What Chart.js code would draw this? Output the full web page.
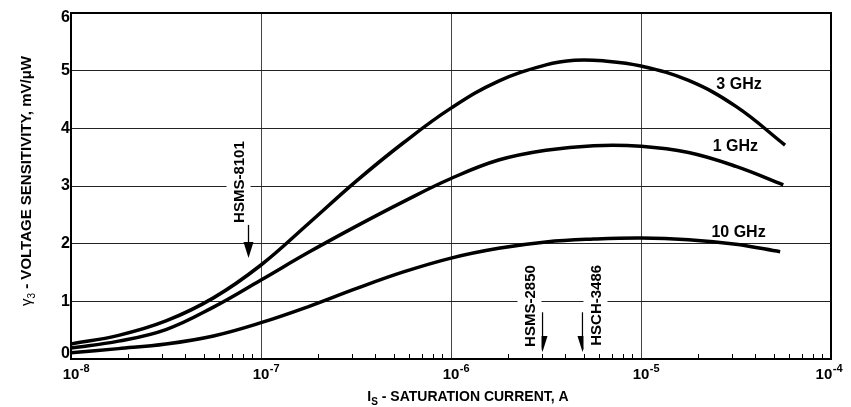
<!DOCTYPE html>
<html>
<head>
<meta charset="utf-8">
<script src="https://cdn.jsdelivr.net/npm/chart.js@4.4.1/dist/chart.umd.min.js"></script>
<style>
  html, body { margin: 0; padding: 0; background: #fff; }
  #wrap { width: 851px; height: 407px; position: relative; }
</style>
</head>
<body>
<div id="wrap"><canvas id="graph"></canvas></div>
<script>
// values: saturation current (A) and sensitivity (mV/uW)
var current3GHz = [1e-8, 1.78e-8, 3.16e-8, 5.62e-8, 1e-7, 1.78e-7, 3.16e-7, 5.62e-7, 1e-6, 1.78e-6, 3.16e-6, 4.47e-6, 6.31e-6, 1e-5, 1.78e-5, 3.16e-5, 5.73e-5];
var sens3GHz    = [0.26, 0.41, 0.66, 1.06, 1.63, 2.35, 3.08, 3.75, 4.35, 4.82, 5.10, 5.18, 5.17, 5.08, 4.83, 4.38, 3.71];

var current1GHz = [1e-8, 1.78e-8, 3.16e-8, 5.62e-8, 1e-7, 1.78e-7, 3.16e-7, 5.62e-7, 1e-6, 1.78e-6, 3.16e-6, 5.62e-6, 1e-5, 1.78e-5, 3.16e-5, 5.61e-5];
var sens1GHz    = [0.19, 0.31, 0.51, 0.90, 1.37, 1.85, 2.30, 2.73, 3.13, 3.45, 3.62, 3.70, 3.69, 3.58, 3.34, 3.02];

var current10GHz = [1e-8, 1.78e-8, 3.16e-8, 5.62e-8, 1e-7, 1.78e-7, 3.16e-7, 5.62e-7, 1e-6, 1.78e-6, 3.16e-6, 5.62e-6, 1e-5, 1.78e-5, 3.16e-5, 5.4e-5];
var sens10GHz    = [0.11, 0.18, 0.26, 0.40, 0.63, 0.91, 1.22, 1.51, 1.75, 1.92, 2.03, 2.08, 2.10, 2.07, 1.99, 1.86];

var seriesNames = ['3 GHz', '1 GHz', '10 GHz'];
var labelCurrent = [3.28e-5, 3.14e-5, 3.26e-5];
var labelSens = [4.75, 3.69, 2.19];

// diode markers along the current axis
var markerNames = ['HSMS-8101', 'HSMS-2850', 'HSCH-3486'];
var markerCurrent = [8.5e-8, 3.0e-6, 4.9e-6];

var xExponents = [-8, -7, -6, -5, -4];
var yTicks = [0, 1, 2, 3, 4, 5, 6];

function points(xs, ys) {
  return xs.map(function (x, i) { return { x: x, y: ys[i] }; });
}

function isDecade(v) {
  var l = Math.log10(v);
  return Math.abs(l - Math.round(l)) < 1e-6;
}

var FONT = '"Liberation Sans", Arial, Helvetica, sans-serif';

// arrow/text placement for markers (pixel offsets, value positions)
var markerLayout = [
  { tip: 1.75, tail: 2.41, textStart: 2.36, dx: -10 },
  { tip: 0.12, tail: 0.81, textStart: 0.21, dx: -13 },
  { tip: 0.12, tail: 0.81, textStart: 0.23, dx: 13 }
];

var decorations = {
  id: 'decorations',
  afterDatasetsDraw: function (chart) {
    var ctx = chart.ctx;
    var xs = chart.scales.x, ys = chart.scales.y;
    var area = chart.chartArea;
    ctx.save();

    // marker arrows and rotated part numbers
    ctx.font = 'bold 15px ' + FONT;
    markerNames.forEach(function (name, i) {
      var m = markerLayout[i];
      var px = Math.round(xs.getPixelForValue(markerCurrent[i])) + 0.5;
      var tip = ys.getPixelForValue(m.tip);
      var tail = ys.getPixelForValue(m.tail);
      ctx.strokeStyle = '#000';
      ctx.lineWidth = 1.3;
      ctx.beginPath();
      ctx.moveTo(px, tail);
      ctx.lineTo(px, tip - 12);
      ctx.stroke();
      ctx.fillStyle = '#000';
      ctx.beginPath();
      ctx.moveTo(px - 5, tip - 16);
      ctx.lineTo(px + 5, tip - 16);
      ctx.lineTo(px, tip);
      ctx.closePath();
      ctx.fill();

      var w = ctx.measureText(name).width;
      var cx = px + m.dx;
      var bottom = ys.getPixelForValue(m.textStart);
      ctx.fillStyle = '#fff';
      ctx.fillRect(cx - 12, bottom - w - 2, 24, w + 4);
      ctx.save();
      ctx.translate(cx + 5.5, bottom);
      ctx.rotate(-Math.PI / 2);
      ctx.fillStyle = '#000';
      ctx.textAlign = 'left';
      ctx.textBaseline = 'alphabetic';
      ctx.fillText(name, 0, 0);
      ctx.restore();
    });

    // curve labels
    ctx.fillStyle = '#000';
    ctx.font = 'bold 16px ' + FONT;
    ctx.textAlign = 'center';
    ctx.textBaseline = 'middle';
    seriesNames.forEach(function (name, i) {
      ctx.fillText(name, xs.getPixelForValue(labelCurrent[i]), ys.getPixelForValue(labelSens[i]));
    });

    // plot frame
    ctx.strokeStyle = '#000';
    ctx.lineWidth = 2;
    ctx.strokeRect(area.left, area.top, area.right - area.left, area.bottom - area.top);

    // minor ticks along the bottom
    ctx.lineWidth = 1;
    for (var e = -8; e < -4; e++) {
      for (var k = 2; k <= 9; k++) {
        var tx = Math.round(xs.getPixelForValue(k * Math.pow(10, e))) + 0.5;
        ctx.beginPath();
        ctx.moveTo(tx, area.bottom);
        ctx.lineTo(tx, area.bottom - 5);
        ctx.stroke();
      }
    }

    // y tick labels
    ctx.font = 'bold 16px ' + FONT;
    ctx.textAlign = 'right';
    ctx.textBaseline = 'middle';
    yTicks.forEach(function (v) {
      var py = ys.getPixelForValue(v);
      py = Math.max(area.top + 5, Math.min(area.bottom - 5, py));
      ctx.fillText(String(v), area.left - 1, py);
    });

    // x tick labels 10^n
    ctx.textAlign = 'left';
    ctx.textBaseline = 'alphabetic';
    xExponents.forEach(function (n) {
      var px = xs.getPixelForValue(Math.pow(10, n));
      ctx.font = 'bold 15px ' + FONT;
      var w10 = ctx.measureText('10').width;
      ctx.font = 'bold 11px ' + FONT;
      var wExp = ctx.measureText('-' + Math.abs(n)).width;
      var start = px - w10 / 2;
      if (start + w10 + wExp > 842) start = 842 - w10 - wExp;
      ctx.font = 'bold 15px ' + FONT;
      ctx.fillText('10', start, 379);
      ctx.font = 'bold 11px ' + FONT;
      ctx.fillText('-' + Math.abs(n), start + w10 + 0.5, 372);
    });

    // x axis title with subscript
    var parts = [['I', 'bold 14px ', 0], ['S', 'bold 10px ', 4], [' - SATURATION CURRENT, A', 'bold 14px ', 0]];
    var total = 0;
    parts.forEach(function (p) { ctx.font = p[1] + FONT; total += ctx.measureText(p[0]).width; });
    var sx = (area.left + area.right) / 2 + 17 - total / 2;
    parts.forEach(function (p) {
      ctx.font = p[1] + FONT;
      ctx.fillText(p[0], sx, 401 + p[2]);
      sx += ctx.measureText(p[0]).width;
    });

    // y axis title, rotated
    var yparts = [['\u03b3', '15px ', 0], ['3', '10px ', 4], [' - VOLTAGE SENSITIVITY, mV/\u03bcW', 'bold 15px ', 0]];
    var ytotal = 0;
    yparts.forEach(function (p) { ctx.font = p[1] + FONT; ytotal += ctx.measureText(p[0]).width; });
    ctx.save();
    ctx.translate(31, 181);
    ctx.rotate(-Math.PI / 2);
    var yx = -ytotal / 2;
    yparts.forEach(function (p) {
      ctx.font = p[1] + FONT;
      ctx.fillText(p[0], yx, p[2]);
      yx += ctx.measureText(p[0]).width;
    });
    ctx.restore();

    ctx.restore();
  }
};

var lineStyle = {
  borderColor: '#000',
  borderWidth: 3.5,
  pointRadius: 0,
  fill: false,
  tension: 0.4
};

var graph = new Chart(document.getElementById('graph'), {
  type: 'line',
  data: {
    datasets: [
      Object.assign({ label: seriesNames[0], data: points(current3GHz, sens3GHz) }, lineStyle),
      Object.assign({ label: seriesNames[1], data: points(current1GHz, sens1GHz) }, lineStyle),
      Object.assign({ label: seriesNames[2], data: points(current10GHz, sens10GHz) }, lineStyle)
    ]
  },
  options: {
    responsive: true,
    maintainAspectRatio: false,
    animation: false,
    layout: { padding: { left: 71, right: 20, top: 13, bottom: 48 } },
    plugins: { legend: { display: false }, tooltip: { enabled: false } },
    scales: {
      x: {
        type: 'logarithmic',
        min: 1e-8,
        max: 1e-4,
        border: { display: false },
        ticks: { display: false },
        grid: {
          drawTicks: false,
          lineWidth: 1,
          color: function (c) {
            return (c.tick && isDecade(c.tick.value)) ? '#444' : 'rgba(0,0,0,0)';
          }
        }
      },
      y: {
        min: 0,
        max: 6,
        border: { display: false },
        ticks: { display: false, stepSize: 1 },
        grid: { drawTicks: false, lineWidth: 1, color: '#222' }
      }
    }
  },
  plugins: [decorations]
});
</script>
</body>
</html>
